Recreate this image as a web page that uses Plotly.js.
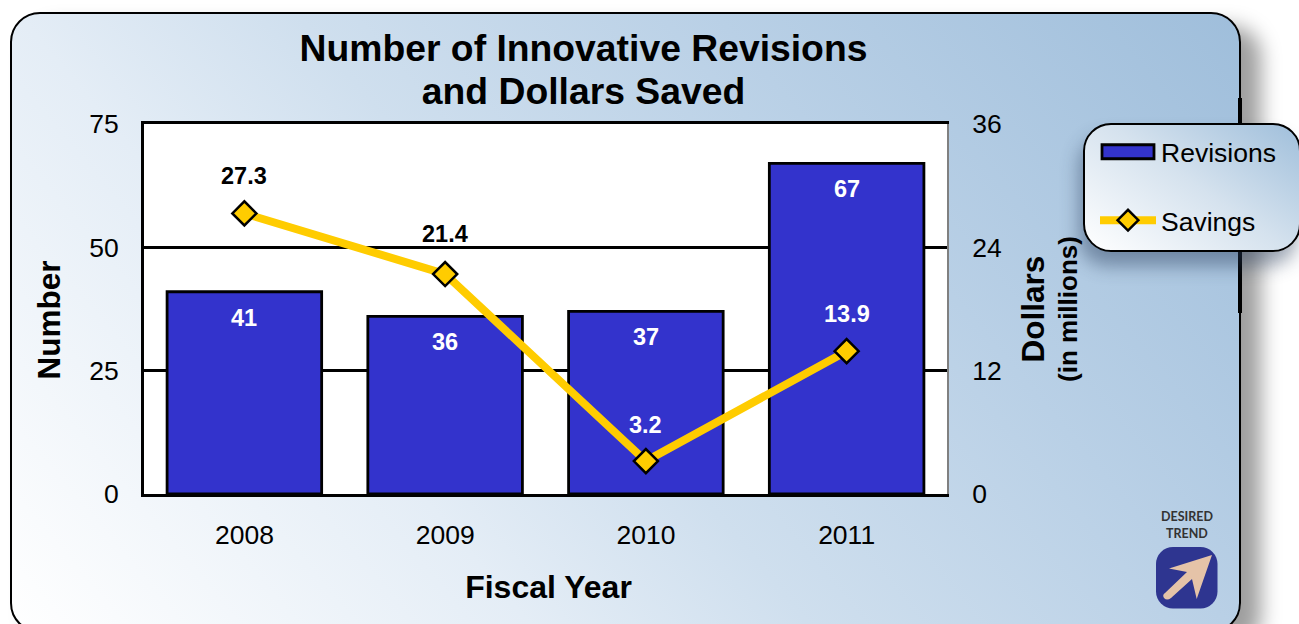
<!DOCTYPE html>
<html><head><meta charset="utf-8">
<script src="https://cdn.plot.ly/plotly-3.0.1.min.js"></script>
<style>
html,body{margin:0;padding:0;background:#fff;overflow:hidden;width:1299px;height:624px;font-family:"Liberation Sans",Arial,sans-serif}
#panel{position:absolute;left:10px;top:12px;width:1227px;height:617px;border:2.5px solid #000;border-radius:30px;
background:linear-gradient(50deg,#ffffff 0%,#e4edf6 30%,#cfdfee 46%,#b9d0e6 70%,#9fbedb 100%);box-shadow:20px 14px 20px rgba(0,0,0,.38)}
#edge{position:absolute;left:1238px;top:98px;width:3.5px;height:215px;background:#000}
#legbox{position:absolute;left:1083px;top:123px;width:214px;height:125px;border:2.5px solid #000;border-radius:28px;
background:linear-gradient(215deg,#a0bfdb 0%,#d5e2ee 48%,#ffffff 100%);box-shadow:-4px 14px 18px rgba(40,60,90,.45)}
#chart{position:absolute;left:0;top:0;width:1299px;height:624px}
#icon{position:absolute;left:1156px;top:547px}
</style></head><body>
<div id="panel"></div><div id="edge"></div><div id="legbox"></div><div id="chart"></div>
<svg id="icon" width="62" height="62" viewBox="0 0 62 62">
<rect x="0" y="0" width="61.5" height="61.5" rx="17" fill="#2e3590"/>
<path d="M9 46 L31 25 L13 21.6 L56 8 L40.7 52 L36 32 L15 51 Q11 54 8 51 Q6 48 9 46Z" fill="#e5c3a8"/>
</svg>
<script>
const years=['2008','2009','2010','2011'];
const revisions=[41,36,37,67];
const savings=[27.3,21.4,3.2,13.9];
const savingsLabelColors=['#000','#000','#fff','#fff'];
const savingsLabelShift=[37,40,36,37];
const F='"Liberation Sans",Arial,sans-serif';
const annos=[];
years.forEach((y,i)=>{
 annos.push({x:i,y:revisions[i],xref:'x',yref:'y',text:'<b>'+revisions[i]+'</b>',showarrow:false,xanchor:'center',yanchor:'middle',yshift:-26,font:{family:F,size:23.5,color:'#fff'}});
 annos.push({x:i,y:savings[i],xref:'x',yref:'y2',text:'<b>'+savings[i]+'</b>',showarrow:false,xanchor:'center',yanchor:'middle',yshift:savingsLabelShift[i],font:{family:F,size:23.5,color:savingsLabelColors[i]}});
});
const px=v=>(v-144)/803, py=v=>(494-v)/370;
annos.push({xref:'paper',yref:'paper',x:px(1187),y:py(516),xanchor:'center',yanchor:'middle',text:'<b>DESIRED</b>',showarrow:false,font:{family:'Lato,'+F,size:12.5,color:'#333'}});
annos.push({xref:'paper',yref:'paper',x:px(1187),y:py(533),xanchor:'center',yanchor:'middle',text:'<b>TREND</b>',showarrow:false,font:{family:'Lato,'+F,size:12.5,color:'#333'}});
const traces=[
 {type:'bar',name:'Revisions',x:years,y:revisions,legendgroup:'a',marker:{color:'#3333cc',line:{color:'#000',width:2.8}},hoverinfo:'x+y'},
 {type:'scatter',mode:'lines+markers',name:'Savings',x:years,y:savings,yaxis:'y2',legendgroup:'b',
  line:{color:'#ffcc00',width:8},marker:{symbol:'diamond',size:18.5,color:'#ffcc00',line:{color:'#000',width:2.5}}}
];
const layout={
 width:1299,height:624,paper_bgcolor:'rgba(0,0,0,0)',plot_bgcolor:'#fff',
 margin:{l:144,r:352,t:124,b:130,pad:0},bargap:0.23,font:{family:F,color:'#000'},
 title:{text:'<b>Number of Innovative Revisions<br>and Dollars Saved</b>',font:{family:F,size:37.3,color:'#000'},x:583.5/1299,xanchor:'center',y:0.903,yanchor:'top',automargin:false},
 xaxis:{type:'category',range:[-0.5,3.5],showgrid:false,showline:true,linecolor:'#000',linewidth:3,mirror:true,ticks:'',tickfont:{size:26.5},ticklabelstandoff:15,
  title:{text:'<b>Fiscal Year</b>',font:{size:32},standoff:27}},
 yaxis:{range:[0,75],tickvals:[0,25,50,75],showgrid:true,gridcolor:'#000',gridwidth:2.5,zeroline:false,showline:true,linecolor:'#000',linewidth:3,ticks:'',tickfont:{size:26.5},ticklabelstandoff:17,
  title:{text:'<b>Number</b>',font:{size:31.5},standoff:20}},
 yaxis2:{range:[0,36],tickvals:[0,12,24,36],overlaying:'y',side:'right',showgrid:false,zeroline:false,showline:true,linecolor:'#808080',linewidth:2,ticks:'',tickfont:{size:26.5},ticklabelstandoff:18,
  title:{text:'<b>Dollars</b><br><span style="font-size:26px"><b>(in millions)</b></span>',font:{size:31.5},standoff:21}},
 showlegend:true,
 legend:{x:px(1095),xanchor:'left',y:py(128),yanchor:'top',bgcolor:'rgba(0,0,0,0)',borderwidth:0,font:{family:F,size:26.5,color:'#000'},itemwidth:56,tracegroupgap:31,traceorder:'grouped',itemclick:false,itemdoubleclick:false},
 annotations:annos
};
function polish(){
 document.querySelectorAll('#chart .legend path').forEach(p=>{
  const d=(p.getAttribute('d')||'');
  if(/^M6,6H-6V-6H6Z/.test(d)) p.setAttribute('d','M26,7H-26V-7H26Z');
 });
 const shift=(sel,dx,dy)=>{const e=document.querySelector('#chart '+sel);if(e&&!e.dataset.s){e.dataset.s=1;e.setAttribute('transform',`translate(${dx},${dy}) `+(e.getAttribute('transform')||''));}};
 shift('.ytitle',0,11);shift('.xtitle',3,0);
 const lift=(sel,n)=>{const l=document.querySelectorAll('#chart '+sel+' tspan.line')[1];if(l&&!l.dataset.s){l.dataset.s=1;l.setAttribute('y',parseFloat(l.getAttribute('y'))-n);}};
 lift('.gtitle',5);lift('.y2title',8);
}
const gd=document.getElementById('chart');
Plotly.newPlot(gd,traces,layout,{displayModeBar:false,responsive:false}).then(()=>{
 polish();gd.on('plotly_afterplot',polish);setTimeout(polish,50);setTimeout(polish,300);
});
</script></body></html>
